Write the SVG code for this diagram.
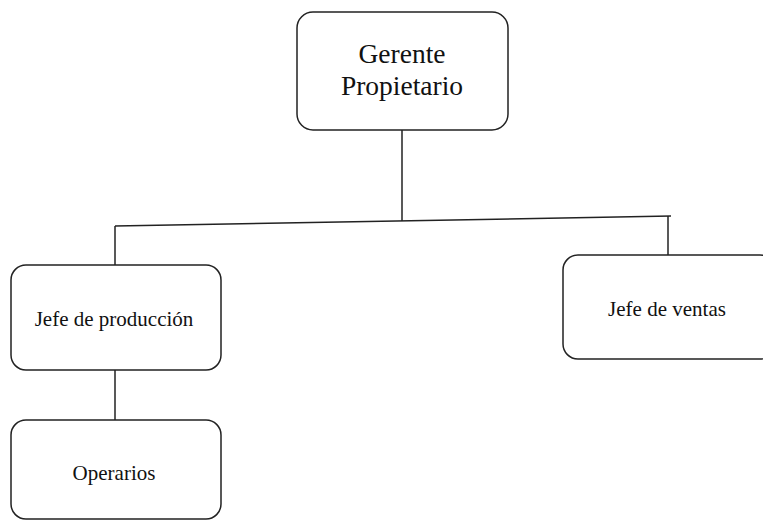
<svg xmlns="http://www.w3.org/2000/svg" width="763" height="521" viewBox="0 0 763 521">
  <style>
    .box { fill: #ffffff; stroke: #222222; stroke-width: 1.5; }
    .link { fill: none; stroke: #222222; stroke-width: 1.5; }
    .lbl { font-family: "Liberation Serif", "Times New Roman", serif; fill: #111111; text-anchor: middle; }
    .big { font-size: 27.5px; }
    .small { font-size: 21px; }
  </style>
  <rect width="763" height="521" fill="#ffffff"/>

  <!-- connectors -->
  <g id="connectors">
    <line class="link" x1="402" y1="130" x2="402" y2="221"/>
    <line class="link" x1="115" y1="226" x2="671" y2="216"/>
    <line class="link" x1="115" y1="226" x2="115" y2="265"/>
    <line class="link" x1="668" y1="216" x2="668" y2="255"/>
    <line class="link" x1="115" y1="370" x2="115" y2="420"/>
  </g>

  <g id="gerente">
    <rect class="box" x="297" y="12" width="211" height="118" rx="16" ry="16"/>
    <text class="lbl big" x="402" y="63">Gerente</text>
    <text class="lbl big" x="402" y="95">Propietario</text>
  </g>

  <g id="jefe-produccion">
    <rect class="box" x="11" y="265" width="210" height="105" rx="15" ry="15"/>
    <text class="lbl small" x="114" y="326">Jefe de producción</text>
  </g>

  <g id="operarios">
    <rect class="box" x="11" y="420" width="210" height="99" rx="15" ry="15"/>
    <text class="lbl small" x="114" y="480">Operarios</text>
  </g>

  <g id="jefe-ventas">
    <rect class="box" x="563" y="255" width="212" height="104" rx="15" ry="15"/>
    <text class="lbl small" x="667" y="316">Jefe de ventas</text>
  </g>
</svg>
